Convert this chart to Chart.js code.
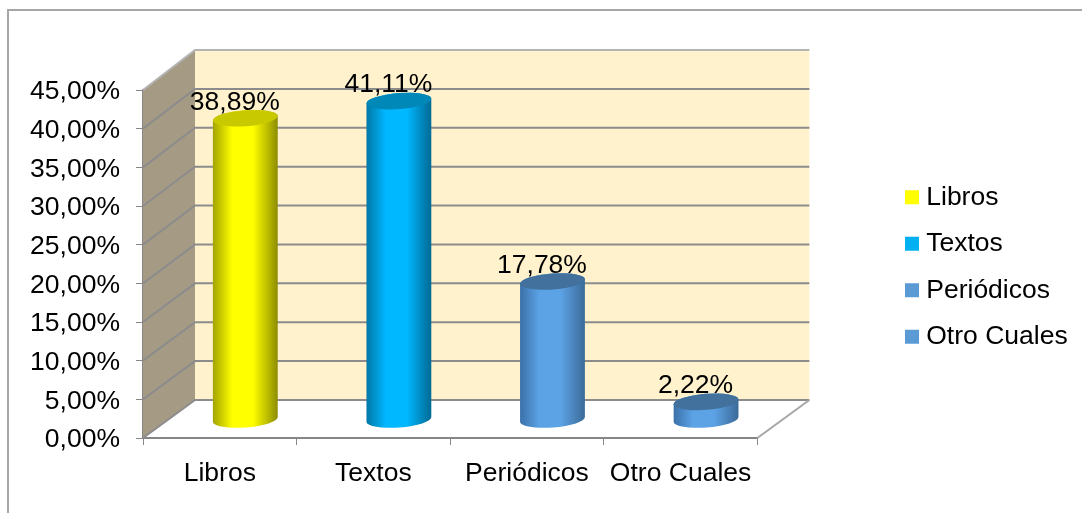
<!DOCTYPE html>
<html><head><meta charset="utf-8">
<style>html,body{margin:0;padding:0;background:#fff}#w{width:1082px;height:513px;position:relative}</style>
<script src="https://cdn.jsdelivr.net/npm/chart.js@4"></script>
</head><body><div id="w"><canvas id="c" width="1082" height="513"></canvas></div>
<script>
const categories = ['Libros','Textos','Periódicos','Otro Cuales'];
const percentValues = [38.89,41.11,17.78,2.22];
const legendColors = ['#ffff00','#00b0f0','#5b9bd5','#5b9bd5'];
const bodyEdgeL = ['#a3a300','#0077a5','#3a70a8','#3a70a8'];
const bodyMid = ['#ffff00','#00b8ff','#5ca3e6','#5ca3e6'];
const bodyEdgeR = ['#8c8c00','#006a94','#3b6a98','#3b6a98'];
const topColors = ['#c9c900','#0088b8','#41719c','#41719c'];

const DX = 52, DYB = 38, FS = 26.5;
const fmt = v => v.toFixed(2).replace('.', ',') + '%';
const font = '"Liberation Sans", Arial, sans-serif';

const depth = {
  id:'depth',
  afterLayout(chart){
    const lg = chart.legend, dx = 891 - lg.left;
    lg.left += dx; lg.right += dx;
    const h = lg.bottom - lg.top, cy = 267;
    lg.top = cy - h/2; lg.bottom = cy + h/2;
  },
  beforeDraw(chart){
    const {ctx, scales:{y}} = chart;
    ctx.save();
    ctx.strokeStyle='#a6a6a6';ctx.lineWidth=2;
    ctx.beginPath();ctx.moveTo(8,513);ctx.lineTo(8,10);ctx.lineTo(1082,10);ctx.stroke();
    ctx.restore();
    y.getLabelItems().forEach(it=>{ it.options.translation = [it.options.translation[0], it.options.translation[1]+2]; });
  },
  beforeDatasetsDraw(chart){
    const {ctx, scales:{x,y}} = chart;
    const fx0 = x.left, fx1 = x.right, fy0 = y.getPixelForValue(0), fyT = y.getPixelForValue(45);
    const wall = v => y.getPixelForValue(v) - DYB - v*2/45;
    const bx0 = fx0+DX, bx1 = fx1+DX;
    ctx.save();
    ctx.fillStyle = '#fff2cc';
    ctx.fillRect(bx0, wall(45), bx1-bx0, wall(0)-wall(45));
    ctx.fillStyle = '#a59b85';
    ctx.beginPath();ctx.moveTo(fx0,fy0);ctx.lineTo(bx0,wall(0));ctx.lineTo(bx0,wall(45));ctx.lineTo(fx0,fyT);ctx.closePath();ctx.fill();
    ctx.lineWidth = 2;
    y.ticks.forEach(t=>{
      const v=t.value, w=wall(v), f=y.getPixelForValue(v);
      ctx.strokeStyle = v===45 ? '#b4b4b4' : '#8c8c8c';
      ctx.beginPath();ctx.moveTo(fx0,f);ctx.lineTo(bx0,w);ctx.lineTo(bx1,w);ctx.stroke();
    });
    ctx.strokeStyle='#a6a6a6';
    ctx.beginPath();ctx.moveTo(fx1,fy0);ctx.lineTo(bx1,wall(0));ctx.stroke();
    ctx.restore();
  },
  afterDatasetsDraw(chart){
    const {ctx} = chart, meta = chart.getDatasetMeta(0);
    const rx = 32.5, ry = 8, rot = -0.075;
    ctx.save();
    meta.data.forEach((b,i)=>{
      const cx = b.x + DX/2 - 0.5, ty = b.y - 19, by = b.base - 18;
      const g = ctx.createLinearGradient(cx-rx,0,cx+rx,0);
      g.addColorStop(0,bodyEdgeL[i]);g.addColorStop(0.3,bodyMid[i]);g.addColorStop(0.62,bodyMid[i]);g.addColorStop(1,bodyEdgeR[i]);
      ctx.fillStyle = g;
      ctx.beginPath();
      ctx.ellipse(cx,by,rx,ry,rot,0,Math.PI);
      ctx.ellipse(cx,ty,rx,ry,rot,Math.PI,2*Math.PI);
      ctx.closePath();ctx.fill();
      ctx.fillStyle = topColors[i];
      ctx.beginPath();ctx.ellipse(cx,ty,rx,ry,rot,0,2*Math.PI);ctx.fill();
      ctx.fillStyle='#000';ctx.font=FS+'px '+font;ctx.textAlign='center';ctx.textBaseline='middle';
      ctx.fillText(fmt(percentValues[i]), b.x+15, b.y-35);
    });
    ctx.restore();
  }
};

new Chart(document.getElementById('c'),{
  type:'bar',
  data:{labels:categories,datasets:[{data:percentValues,backgroundColor:'rgba(0,0,0,0)',borderWidth:0,barThickness:65}]},
  plugins:[depth],
  options:{
    responsive:false,animation:false,events:[],
    layout:{padding:{top:90,left:0,right:138,bottom:0}},
    plugins:{
      tooltip:{enabled:false},
      legend:{display:true,position:'right',
        labels:{color:'#000',font:{family:font,size:FS},boxWidth:2,boxHeight:14,usePointStyle:true,pointStyle:'rect',padding:20,
          generateLabels:()=>categories.map((t,i)=>({text:t,fillStyle:legendColors[i],strokeStyle:legendColors[i],lineWidth:0,pointStyle:'rect',index:i,fontColor:'#000'}))}
      }
    },
    scales:{
      x:{grid:{drawOnChartArea:false,drawTicks:true,tickLength:7,color:'#868686',lineWidth:1},
         border:{color:'#868686',width:2},
         ticks:{color:'#000',font:{family:font,size:FS},padding:13,maxRotation:0,autoSkip:false},
         afterFit:s=>{s.height=75}},
      y:{min:0,max:45,grid:{drawOnChartArea:false,drawTicks:true,tickLength:7,color:'#868686',lineWidth:1},
         border:{color:'#868686',width:2},
         ticks:{stepSize:5,color:'#000',font:{family:font,size:FS},padding:16,callback:v=>fmt(v)},
         afterFit:s=>{s.width=143}}
    }
  }
});
</script></body></html>
